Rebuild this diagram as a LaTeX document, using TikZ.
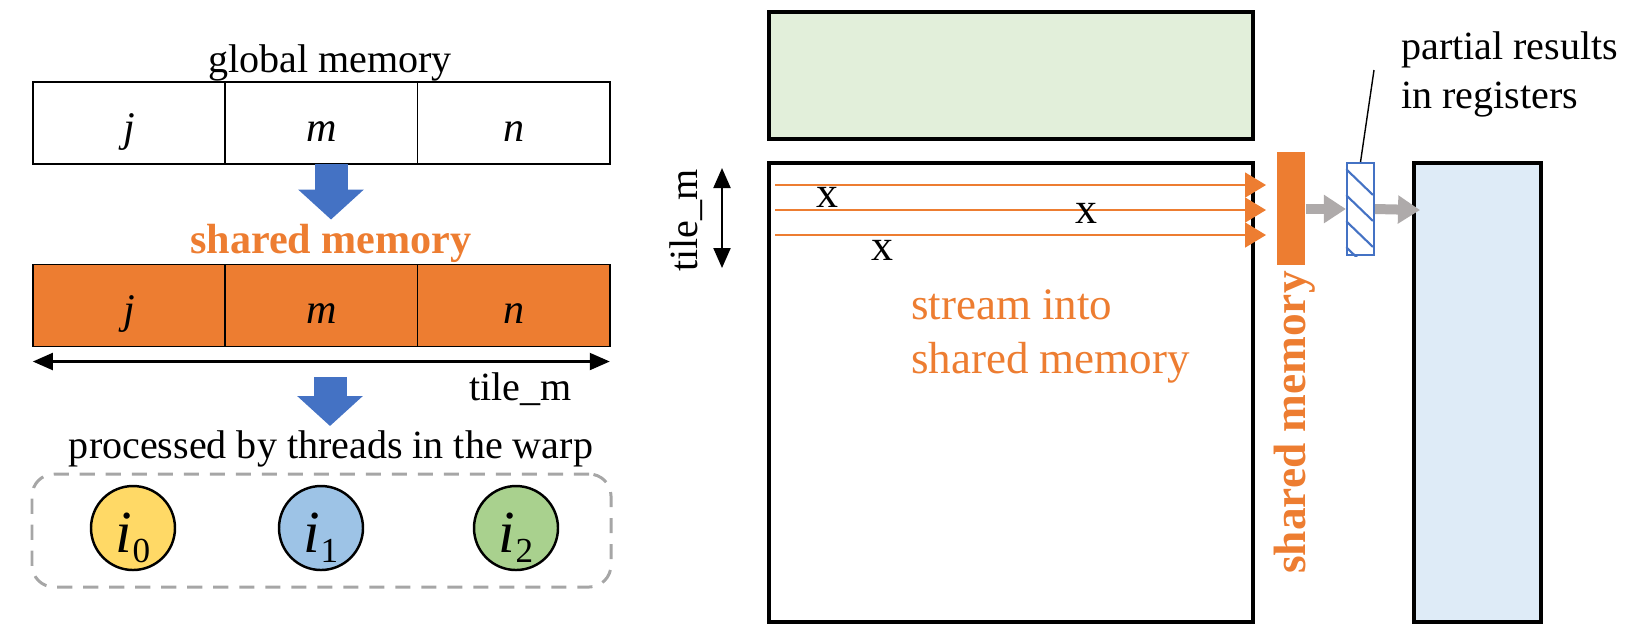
\documentclass[tikz,border=0pt]{standalone}
\usepackage{fontspec}
\setmainfont{Liberation Serif}
\usetikzlibrary{arrows.meta,calc,positioning}

\definecolor{accent}{HTML}{ED7D31}
\definecolor{arrowblue}{HTML}{4472C4}
\definecolor{thrA}{HTML}{FFD966}
\definecolor{thrB}{HTML}{9DC3E6}
\definecolor{thrC}{HTML}{A9D18E}
\definecolor{tileA}{HTML}{E2EFDA}
\definecolor{tileC}{HTML}{DEEBF7}
\definecolor{flowgray}{HTML}{AEAAAA}
\definecolor{boxgray}{HTML}{A6A6A6}

\newcommand{\thrlab}[1]{{\fontsize{17}{17}\selectfont\itshape i}\raisebox{-0.1cm}{\fontsize{10}{10}\selectfont #1}}

\tikzset{
  cell/.style={draw, line width=0.5pt, minimum width=1.923cm, minimum height=0.82cm,
    inner sep=0pt, outer sep=0pt, text height=0.46cm, text depth=0.1cm,
    font=\fontsize{12}{12}\selectfont\itshape},
  bigarrow/.style={arrowblue, line width=0.33cm, -{Triangle[length=0.3cm,width=0.64cm]}},
  dimarrow/.style={line width=0.6pt, {Triangle[length=0.2cm,width=0.17cm]}-{Triangle[length=0.2cm,width=0.17cm]}},
  warpbox/.style={draw=boxgray, line width=0.85pt, dash pattern=on 4.3pt off 3.1pt, rounded corners=0.22cm},
  thread/.style={circle, draw, line width=0.7pt, minimum size=0.84cm, inner sep=0pt,
    text height=0.6cm, text depth=0.12cm},
  tilebox/.style={draw, line width=0.9pt, inner sep=0pt},
  stream/.style={accent, line width=0.45pt, -{Triangle[length=0.21cm,width=0.25cm]}},
  flow/.style={flowgray, line width=0.1cm, -{Triangle[length=0.22cm,width=0.27cm]}},
  hatch/.style={arrowblue, line width=0.6pt}
}

\begin{document}
\begin{tikzpicture}[font=\fontsize{11.4}{13.7}\selectfont, inner sep=1pt]
\useasboundingbox (0,0) rectangle (16.52,-6.25);

\node[anchor=base] (glob) at (3.30,-0.72) {global memory};
\node[cell] (j1) at (1.29,-1.23) {j};
\node[cell, right=0pt of j1] (m1) {m};
\node[cell, right=0pt of m1] (n1) {n};

\node[anchor=base, text=accent, font=\fontsize{12}{14}\selectfont\bfseries] (shlab) at (3.31,-2.53) {shared memory};
\node[cell, fill=accent] (j2) at (1.29,-3.055) {j};
\node[cell, fill=accent, right=0pt of j2] (m2) {m};
\node[cell, fill=accent, right=0pt of m2] (n2) {n};

\draw[bigarrow] (shlab.north |- m1.south) -- (shlab.north);

\draw[dimarrow] ([yshift=-0.15cm]j2.south west) -- ([yshift=-0.15cm]n2.south east);
\node[anchor=base east] (tml) at (5.76,-4.00) {tile\_m};

\coordinate (a2) at (3.30,-3.77);
\node[anchor=base] (procl) at (3.31,-4.58) {processed by threads in the warp};
\draw[bigarrow] (a2) -- (a2 |- procl.north);

\node[warpbox, minimum width=5.79cm, minimum height=1.13cm] (warp) at (3.215,-5.305) {};
\node[thread, fill=thrA] (t0) at (1.33,-5.28) {\thrlab{0}};
\node[thread, fill=thrB] (t1) at (3.21,-5.28) {\thrlab{1}};
\node[thread, fill=thrC] (t2) at (5.16,-5.28) {\thrlab{2}};

\node[tilebox, fill=tileA, minimum width=4.84cm, minimum height=1.27cm] (tA) at (10.11,-0.755) {};
\node[tilebox, minimum width=4.84cm, minimum height=4.59cm] (tB) at (10.11,-3.925) {};
\node[tilebox, fill=tileC, minimum width=1.27cm, minimum height=4.59cm] (tC) at (14.775,-3.925) {};

\coordinate (v1) at (7.22,-1.68);
\coordinate (v2) at (7.22,-2.68);
\draw[dimarrow] (v1) -- (v2);
\node[rotate=90, anchor=base west] (tmv) at (6.97,-2.76) {tile\_m};

\coordinate (s1) at (7.75,-1.85);
\coordinate (s2) at (7.75,-2.10);
\coordinate (s3) at (7.75,-2.35);
\coordinate (e1) at (12.66,-1.85);
\coordinate (e2) at (12.66,-2.10);
\coordinate (e3) at (12.66,-2.35);
\draw[stream] (s1) -- (e1);
\draw[stream] (s2) -- (e2);
\draw[stream] (s3) -- (e3);

\node[font=\fontsize{12.5}{14}\selectfont] (x1) at (8.27,-1.97) {x};
\node[font=\fontsize{12.5}{14}\selectfont] (x2) at (10.86,-2.13) {x};
\node[font=\fontsize{12.5}{14}\selectfont] (x3) at (8.82,-2.50) {x};

\node[anchor=base west, align=left, text=accent, font=\fontsize{12.8}{15.1}\selectfont] (strm) at (9.07,-3.73) {stream into\\shared memory};

\node[fill=accent, minimum width=0.28cm, minimum height=1.13cm, inner sep=0pt] (smem) at (12.91,-2.085) {};
\node[rotate=90, anchor=base west, text=accent, font=\fontsize{12.9}{15}\selectfont\bfseries] (smv) at (13.05,-5.78) {shared memory};

\node[draw=arrowblue, line width=0.6pt, minimum width=0.27cm, minimum height=0.92cm, inner sep=0pt] (regs) at (13.605,-2.09) {};
\begin{scope}
\clip (regs.south west) rectangle (regs.north east);
\draw[hatch] ($(regs.north west)+(0,-0.07)$) -- +(0.27,-0.26);
\draw[hatch] ($(regs.north west)+(0,-0.33)$) -- +(0.27,-0.26);
\draw[hatch] ($(regs.north west)+(0,-0.59)$) -- +(0.27,-0.26);
\draw[hatch] ($(regs.north west)+(0,-0.85)$) -- +(0.27,-0.26);
\end{scope}

\draw[flow] (smem.east |- regs.west) -- (regs.west);
\coordinate (c1) at (14.20,-2.10);
\draw[flow] (regs.east) -- (c1);

\node[anchor=base west, align=left] (part) at (13.97,-1.08) {partial results\\in registers};
\coordinate (lead) at (13.74,-0.70);
\draw[line width=0.4pt] (lead) -- (regs.north);

\end{tikzpicture}
\end{document}
